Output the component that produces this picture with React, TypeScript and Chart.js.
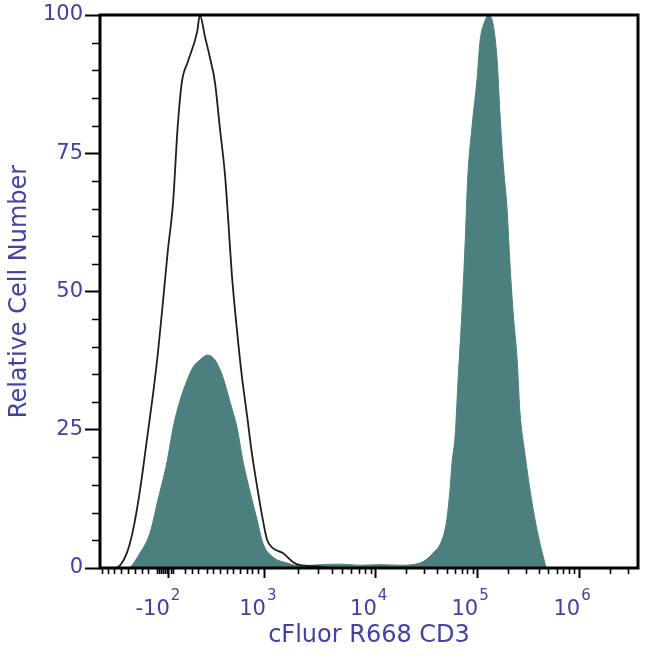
import React, { useEffect, useRef } from 'react';
import { Chart, registerables } from 'chart.js';

Chart.register(...registerables);

// Control (unstained / isotype) histogram: channel positions and relative counts
const ctrlCh = [0, 29, 51, 63, 76, 89, 101, 110, 120, 129, 139, 148, 156, 167, 185, 190, 200, 209, 219, 228, 238, 244, 251, 261, 270, 280, 289, 301, 310, 318, 329, 348, 367, 381, 413, 440, 1024];
const ctrlVal = [0, 0, 2.7, 6.9, 14, 23, 31.5, 38.7, 48.3, 57.3, 66, 80, 88, 91.5, 97, 100, 96, 92.4, 87.7, 79.7, 71, 63, 53, 42.7, 34.7, 27.5, 20.8, 13.6, 8.7, 5.1, 3.6, 2.7, 1.1, 0.5, 0.3, 0, 0];

// CD3 stained histogram (filled)
const cd3Ch = [0, 53, 76, 95, 110, 128, 139, 152, 166, 177, 190, 204, 219, 234, 247, 261, 272, 286, 299, 310, 329, 356, 381, 419, 457, 495, 533, 571, 609, 634, 651, 660, 666, 670, 676, 681, 689, 695, 700, 708, 718, 723, 733, 739, 748, 756, 761, 767, 775, 780, 786, 794, 799, 809, 822, 832, 843, 851, 1024];
const cd3Val = [0, 0, 2.7, 6.3, 12.2, 19.4, 25.3, 30.2, 34, 36.3, 37.6, 38.5, 37.6, 34.5, 30.2, 25.3, 19.4, 13.6, 8.7, 4.5, 2, 0.9, 0.4, 0.6, 0.7, 0.5, 0.6, 0.5, 0.9, 2.7, 5.1, 8.7, 14, 19, 24, 33, 46.6, 58.8, 70.7, 79.7, 88.8, 95, 99, 100, 98.4, 91.7, 82.6, 73.6, 64.6, 55.5, 46.6, 37.6, 28.6, 20.5, 12, 6.8, 2.3, 0, 0];

// Axis ticks (x in display channels 0..1024)
const X_MIN = 0;
const X_MAX = 1024;
const xTickValues = [131, 314, 525, 718, 912];
const xTickBase = ['-10', '10', '10', '10', '10'];
const xTickExp = ['2', '3', '4', '5', '6'];
const xMinorLow = [4, 15, 27, 40, 53, 67, 80, 91, 108, 112, 116, 120, 124, 127, 135, 139, 162, 175, 187, 204, 215, 228, 242, 253, 266, 280, 289, 301];
const yTicks = [0, 25, 50, 75, 100];

const TEXT = '#4141a6';
const FAMILY = '"DejaVu Sans", Verdana, sans-serif';
const FILL = '#4b807e';

export default function App() {
  const ref = useRef<HTMLCanvasElement>(null);

  useEffect(() => {
    if (!ref.current) return;

    const framePlugin = {
      id: 'frameAndMinor',
      afterDraw(chart: any) {
        const { ctx, chartArea: a, scales } = chart;
        const xs = scales.x;
        const ys = scales.y;
        ctx.save();
        ctx.strokeStyle = '#000';
        // minor x ticks
        const minors: number[] = [...xMinorLow];
        for (let i = 1; i < xTickValues.length - 1; i++) {
          const lo = xTickValues[i];
          const hi = xTickValues[i + 1];
          for (let k = 2; k <= 9; k++) minors.push(lo + Math.log10(k) * (hi - lo));
        }
        const last = xTickValues[xTickValues.length - 1];
        const w = last - xTickValues[xTickValues.length - 2];
        for (let k = 2; k <= 9; k++) {
          const v = last + Math.log10(k) * w;
          if (v < X_MAX - 4) minors.push(v);
        }
        ctx.lineWidth = 1.6;
        ctx.beginPath();
        for (const v of minors) {
          const px = Math.round(xs.getPixelForValue(v)) + 0.5;
          ctx.moveTo(px, a.bottom);
          ctx.lineTo(px, a.bottom + 6);
        }
        ctx.stroke();
        // minor y ticks
        ctx.beginPath();
        for (let v = 5; v < 100; v += 5) {
          if (v % 25 === 0) continue;
          const py = Math.round(ys.getPixelForValue(v)) + 0.5;
          ctx.moveTo(a.left, py);
          ctx.lineTo(a.left - 8, py);
        }
        ctx.stroke();
        // frame
        ctx.lineWidth = 3;
        ctx.strokeRect(a.left, a.top, a.right - a.left, a.bottom - a.top);

        // x tick labels with superscript exponents
        ctx.fillStyle = TEXT;
        ctx.textBaseline = 'alphabetic';
        xTickValues.forEach((v, i) => {
          const px = xs.getPixelForValue(v);
          ctx.font = `21px ${FAMILY}`;
          ctx.textAlign = 'right';
          ctx.fillText(xTickBase[i], px + 1, a.bottom + 47);
          ctx.font = `15px ${FAMILY}`;
          ctx.textAlign = 'left';
          ctx.fillText(xTickExp[i], px + 2, a.bottom + 32);
        });
        ctx.restore();
      },
    };

    const chart = new Chart(ref.current, {
      type: 'line',
      data: {
        datasets: [
          {
            label: 'Control',
            data: ctrlCh.map((x, i) => ({ x, y: ctrlVal[i] })),
            borderColor: '#1e1e1e',
            borderWidth: 1.8,
            pointRadius: 0,
            fill: false,
            cubicInterpolationMode: 'monotone',
            order: 0,
          },
          {
            label: 'CD3',
            data: cd3Ch.map((x, i) => ({ x, y: cd3Val[i] })),
            borderColor: FILL,
            backgroundColor: FILL,
            borderWidth: 1,
            pointRadius: 0,
            fill: 'origin',
            cubicInterpolationMode: 'monotone',
            order: 1,
          },
        ],
      },
      options: {
        animation: false,
        responsive: false,
        maintainAspectRatio: false,
        layout: { padding: { left: 0, top: 15, right: 12, bottom: 0 } },
        plugins: { legend: { display: false }, tooltip: { enabled: false } },
        scales: {
          x: {
            type: 'linear',
            min: X_MIN,
            max: X_MAX,
            afterBuildTicks: (s: any) => {
              s.ticks = xTickValues.map((v) => ({ value: v }));
            },
            afterFit: (s: any) => {
              s.height = 89;
            },
            ticks: {
              autoSkip: false,
              maxRotation: 0,
              minRotation: 0,
              color: TEXT,
              font: { family: FAMILY, size: 21 },
              callback: () => '',
            },
            grid: { drawOnChartArea: false, tickLength: 10, tickWidth: 2, tickColor: '#000' },
            border: { display: false },
            title: {
              display: true,
              text: 'cFluor R668 CD3',
              color: TEXT,
              font: { family: FAMILY, size: 24 },
              padding: { top: 0, bottom: 7 },
            },
          },
          y: {
            type: 'linear',
            min: 0,
            max: 100,
            afterBuildTicks: (s: any) => {
              s.ticks = yTicks.map((v) => ({ value: v }));
            },
            afterFit: (s: any) => {
              s.width = 100;
            },
            ticks: {
              padding: 2,
              color: TEXT,
              font: { family: FAMILY, size: 21 },
            },
            grid: { drawOnChartArea: false, tickLength: 15, tickWidth: 2, tickColor: '#000' },
            border: { display: false },
            title: {
              display: true,
              text: 'Relative Cell Number',
              color: TEXT,
              font: { family: FAMILY, size: 24 },
              padding: { top: 5, bottom: 0 },
            },
          },
        },
      },
      plugins: [framePlugin],
    });

    return () => chart.destroy();
  }, []);

  return (
    <div style={{ position: 'fixed', left: 0, top: 0, width: 650, height: 657, background: '#fff' }}>
      <canvas ref={ref} width={650} height={657} style={{ width: 650, height: 657, display: 'block' }} />
    </div>
  );
}
